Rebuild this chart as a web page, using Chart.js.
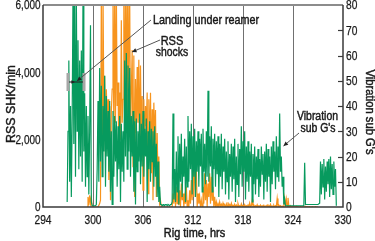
<!DOCTYPE html>
<html>
<head>
<meta charset="utf-8">
<script src="https://cdn.jsdelivr.net/npm/chart.js@4.4.1/dist/chart.umd.min.js"></script>
<style>
  html, body { margin: 0; padding: 0; background: #fff; }
  #wrap { width: 375px; height: 241px; }
</style>
</head>
<body>
<div id="wrap"><canvas id="chart" width="375" height="241"></canvas></div>
<script>
const FONT = '"Liberation Sans", Arial, Helvetica, sans-serif';

// axis ticks
const timeTicks = [294, 300, 306, 312, 318, 324, 330];
const shkTicks = [0, 2000, 4000, 6000];
const gTicks = [0, 10, 20, 30, 40, 50, 60, 70, 80];

// samples every 0.1 hr
const sampleStep = 0.1;

// vibration sub, G's (right axis), starting at 296.9 hrs
const vibStart = 296.9;
const vibG = [
  2, 30, 58, 10, 40, 4, 35, 85, 25, 82, 12, 84, 30, 66, 15, 58, 20, 62, 10, 85,
  22, 45, 8, 40, 12, 36, 5, 30, 72, 2, 0.5, 0.5, 0.5, 0.5, 0.5, 1, 15, 42, 10, 55,
  18, 48, 12, 40, 22, 52, 8, 44, 20, 38, 14,
  42, 6, 30, 1, 38, 12, 36, 18, 34, 8, 32, 15, 36, 2, 33, 14, 30, 10, 58, 20,
  61, 15, 56, 22, 55, 12, 36, 20, 38, 6, 34, 1, 35, 14, 30, 18, 37, 9, 33, 16,
  38, 12, 31, 20, 35, 2, 30, 15, 34, 10, 31, 18, 30, 8, 32, 12, 25, 4, 18, 2,
  8, 1, 1, 0.5, 1, 1, 0.5, 1, 1, 0.5, 1, 1, 0.5, 1, 1, 2,
  37, 3, 15, 2, 22, 6, 28, 1, 25, 10, 29, 4, 20, 12, 27, 2, 24, 8, 36, 10,
  30, 15, 33, 5, 28, 12, 31, 4, 26, 14, 30, 8, 27, 16, 29, 6, 31, 14, 25, 9,
  30, 12, 46, 10, 28, 16, 32, 6, 27, 15, 29, 8, 26, 13, 28, 4, 25, 12, 29, 7,
  24, 14, 27, 5, 22, 10, 26, 3, 21, 12, 25, 6, 24, 11, 27, 2, 20, 9, 25, 4,
  23, 13, 32, 8, 26, 14, 30, 3, 24, 10, 26, 6, 22, 12, 25, 2, 21, 9, 24, 5,
  20, 11, 23, 4, 19, 8, 24, 13, 21, 3, 22, 10, 25, 6, 23, 12, 20, 2, 24, 9,
  26, 14, 22, 7, 28, 12, 24, 10, 37, 14, 20, 8, 12, 1, 3, 0.5, 0.5, 0.5, 0.5, 0.5,
  0.5, 0.5, 0.5, 0.5, 0.5, 0.5, 0.5, 0.5, 0.5, 0.5, 0.5, 0.5, 0.5, 0.5, 0.5, 0.5,
  0.5, 0.5, 17.5, 1, 1, 1, 1, 1, 1, 1, 1, 1, 1, 1, 1, 1, 1, 1, 1, 1, 1.5,
  18, 5, 17, 8, 19, 3, 16, 6, 18, 9, 19, 4, 20, 7, 17, 5, 18, 8, 15, 0.5
];

// RSS shocks per minute (left axis), starting at 299.3 hrs
const shkStart = 299.3;
const shkPerMin = [
  0, 300, 50, 350, 100, 280, 0, 0, 0, 0, 0, 0, 0, 0, 0, 100, 200,
  6500, 2000, 6500, 3000, 3900, 1500, 3500, 2600, 3200, 800, 3000, 200, 2800, 3500,
  6500, 2000, 6500, 2500, 6500, 3000, 3700, 1500, 3400, 2000, 5550, 2500, 3200, 6500,
  2200, 6500, 3000, 6500, 2700, 4500, 6500, 1800, 3500, 4660, 1200, 4500, 300, 3800,
  2200, 4160, 2500, 4370, 1500, 4200, 2000, 3300, 500, 3200, 1800, 3000, 2400, 3400,
  400, 3200, 1600, 3390, 1000, 2900, 200, 3100, 2000, 2880, 300, 2200, 800, 1500,
  100, 200, 0, 0, 0, 0, 0, 0, 0, 0, 0, 0, 0, 0, 0, 0,
  400, 100, 800, 0, 600, 100, 900, 50, 500, 0, 700, 200, 400, 0, 300, 100, 600, 0,
  200, 0, 500, 100, 800, 200, 1400, 300, 1600, 500, 1100, 0, 400, 100, 300, 0,
  200, 0, 600, 100, 1000, 200, 800, 0, 700, 300, 1000, 100, 900, 200, 600, 0, 300, 0,
  150, 0,
  100, 0, 150, 20, 80, 0, 120, 30, 60, 0, 90, 10, 140, 0, 70, 20, 110, 0, 50, 10,
  80, 0, 60, 20, 100, 0, 40, 10, 90, 0, 50, 20, 70, 0, 40, 10, 60, 0, 120, 20,
  30, 220, 10, 60, 0, 40, 10, 70, 0, 30, 20, 60, 0, 40, 10, 50, 0, 30, 20, 60,
  0, 40, 10, 80, 0, 30, 20, 50, 0, 40, 10, 250, 0, 60, 20, 40, 0, 30, 10, 50,
  270, 20, 230, 10, 270, 30, 0, 40, 0, 20, 10,
  0, 10, 0, 20, 0, 10, 0, 0, 15, 0, 0, 10, 0, 0, 20, 0, 10, 0, 0, 10,
  0, 0, 10, 0, 0, 0, 10, 0, 0, 0
];

function toPoints(start, values) {
  return values.map((v, i) => ({ x: +(start + i * sampleStep).toFixed(2), y: v }));
}

function arrowHead(ctx, x0, y0, x1, y1, size) {
  const a = Math.atan2(y1 - y0, x1 - x0);
  ctx.beginPath();
  ctx.moveTo(x1, y1);
  ctx.lineTo(x1 - size * Math.cos(a - 0.45), y1 - size * Math.sin(a - 0.45));
  ctx.lineTo(x1 - size * Math.cos(a + 0.45), y1 - size * Math.sin(a + 0.45));
  ctx.closePath();
  ctx.fill();
}

// condensed text: squeeze horizontally by sx, optional rotation and extra weight
function label(ctx, text, x, y, size, opts = {}) {
  const { align = 'center', rot = 0, sx = 0.82, heavy = 0 } = opts;
  ctx.save();
  ctx.translate(x, y);
  ctx.rotate(rot);
  ctx.scale(sx, 1);
  ctx.font = size + 'px ' + FONT;
  ctx.textAlign = align;
  ctx.textBaseline = 'alphabetic';
  ctx.fillText(text, 0, 0);
  if (heavy) {
    ctx.lineWidth = heavy;
    ctx.strokeStyle = ctx.fillStyle;
    ctx.strokeText(text, 0, 0);
  }
  ctx.restore();
}

const decorations = {
  id: 'decorations',
  afterDraw(chart) {
    const ctx = chart.ctx;
    const a = chart.chartArea;
    const {x: xs, y: ys, y2} = chart.scales;
    ctx.save();

    // frame
    ctx.strokeStyle = '#8c8c8c';
    ctx.lineWidth = 2;
    ctx.beginPath();
    ctx.moveTo(a.left, a.top);
    ctx.lineTo(a.right, a.top);
    ctx.stroke();
    ctx.strokeStyle = '#3a3a3a';
    ctx.lineWidth = 1.5;
    ctx.beginPath();
    ctx.moveTo(a.left, a.top);
    ctx.lineTo(a.left, a.bottom);
    ctx.lineTo(a.right, a.bottom);
    ctx.lineTo(a.right, a.top);
    ctx.stroke();

    // inward ticks on the right axis
    ctx.lineWidth = 1.2;
    y2.ticks.slice(1, -1).forEach(t => {
      const y = Math.round(y2.getPixelForValue(t.value)) + 0.5;
      ctx.beginPath();
      ctx.moveTo(a.right - 5, y);
      ctx.lineTo(a.right, y);
      ctx.stroke();
    });

    // tick labels, placed by the scales
    ctx.fillStyle = '#1a1a1a';
    xs.ticks.forEach(t => label(ctx, String(t.value), xs.getPixelForValue(t.value), 224, 12, { sx: 0.85, heavy: 0.25 }));
    ys.ticks.forEach(t => label(ctx, t.value.toLocaleString('en-US'), 40.5, ys.getPixelForValue(t.value) + 4.3, 12, { align: 'right', sx: 0.83, heavy: 0.25 }));
    y2.ticks.forEach(t => label(ctx, String(t.value), 346, y2.getPixelForValue(t.value) + 4.3, 12, { align: 'left', sx: 0.85, heavy: 0.25 }));

    // axis titles
    label(ctx, 'RSS SHK/min', 14.5, 104, 13.5, { rot: -Math.PI / 2, sx: 0.92, heavy: 0.45 });
    label(ctx, "Vibration sub G's", 366, 112, 12.5, { rot: Math.PI / 2, sx: 0.9, heavy: 0.45 });
    label(ctx, 'Rig time, hrs', 194.5, 237, 13, { sx: 0.84, heavy: 0.5 });

    // callouts
    label(ctx, 'Landing under reamer', 153, 23.5, 13, { align: 'left', sx: 0.83, heavy: 0.45 });
    label(ctx, 'RSS', 172, 44.5, 13, { sx: 0.85, heavy: 0.45 });
    label(ctx, 'shocks', 172, 55.5, 13, { sx: 0.8, heavy: 0.45 });
    label(ctx, 'Vibration', 317.5, 120, 12, { sx: 0.87, heavy: 0.45 });
    label(ctx, "sub G's", 318, 131.5, 12, { sx: 0.87, heavy: 0.45 });

    // I-bar marker
    ctx.fillStyle = '#a6a6a6';
    ctx.fillRect(66.5, 73, 3, 18);
    ctx.fillRect(82.5, 73, 3, 18);
    ctx.strokeStyle = '#222';
    ctx.lineWidth = 1;
    ctx.beginPath();
    ctx.moveTo(69, 82);
    ctx.lineTo(83, 82);
    ctx.stroke();
    ctx.fillStyle = '#222';
    arrowHead(ctx, 69, 82, 75, 82, 4);

    // leader lines
    ctx.strokeStyle = '#555';
    ctx.lineWidth = 1;
    [[151, 20, 77, 81], [160, 40, 132, 52], [299, 133, 283.5, 146]].forEach(([x0, y0, x1, y1]) => {
      ctx.beginPath();
      ctx.moveTo(x0, y0);
      ctx.lineTo(x1, y1);
      ctx.stroke();
      arrowHead(ctx, x0, y0, x1, y1, 5);
    });
    ctx.restore();
  }
};

new Chart(document.getElementById('chart'), {
  type: 'line',
  data: {
    datasets: [
      {
        label: "Vibration sub G's",
        data: toPoints(vibStart, vibG),
        yAxisID: 'y2',
        borderColor: '#079a5e',
        borderWidth: 1.2,
        pointRadius: 0,
        tension: 0,
        clip: 0,
        order: 0
      },
      {
        label: 'RSS SHK/min',
        data: toPoints(shkStart, shkPerMin),
        yAxisID: 'y',
        borderColor: '#f7941d',
        borderWidth: 1.2,
        pointRadius: 0,
        tension: 0,
        clip: 0,
        order: 1
      }
    ]
  },
  options: {
    responsive: false,
    devicePixelRatio: 1,
    animation: false,
    layout: { padding: { top: 5, left: 0, right: 0, bottom: 0 } },
    plugins: { legend: { display: false }, tooltip: { enabled: false } },
    scales: {
      x: {
        type: 'linear',
        min: 294,
        max: 330,
        afterBuildTicks: s => { s.ticks = timeTicks.map(v => ({ value: v })); },
        afterFit: s => { s.height = 34; },
        ticks: { display: false },
        grid: {
          color: c => (c.tick && (c.tick.value === 294 || c.tick.value === 330)) ? 'rgba(0,0,0,0)' : '#707070',
          lineWidth: 1,
          drawTicks: false
        },
        border: { display: false }
      },
      y: {
        position: 'left',
        min: 0,
        max: 6000,
        afterBuildTicks: s => { s.ticks = shkTicks.map(v => ({ value: v })); },
        afterFit: s => { s.width = 43; },
        ticks: { display: false },
        grid: { display: false, drawTicks: false },
        border: { display: false }
      },
      y2: {
        position: 'right',
        min: 0,
        max: 80,
        afterBuildTicks: s => { s.ticks = gTicks.map(v => ({ value: v })); },
        afterFit: s => { s.width = 32; },
        ticks: { display: false },
        grid: { display: false, drawTicks: false },
        border: { display: false }
      }
    }
  },
  plugins: [decorations]
});
</script>
</body>
</html>
